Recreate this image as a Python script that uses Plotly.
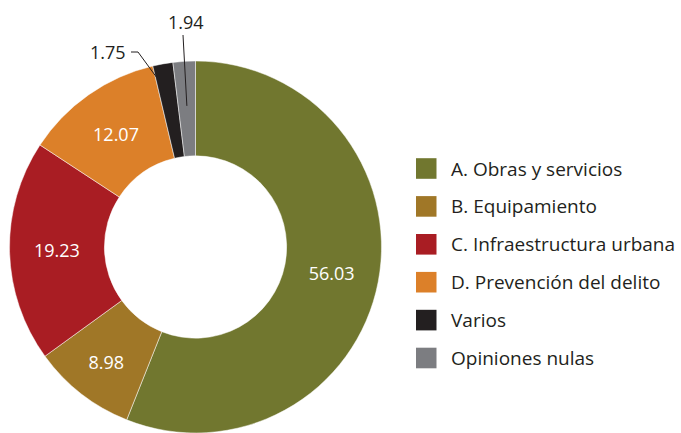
import math
import plotly.graph_objects as go

# Distribution of votes by project category (%)
categories = [
    "A. Obras y servicios",
    "B. Equipamiento",
    "C. Infraestructura urbana",
    "D. Prevención del delito",
    "Varios",
    "Opiniones nulas",
]
values = [56.03, 8.98, 19.23, 12.07, 1.75, 1.94]
colors = ["#71772f", "#a07727", "#a91d23", "#dc8029", "#231f20", "#7c7d81"]
outside = [False, False, False, False, True, True]

W, H = 681, 433
FONT = "Open Sans"
DARK = "#231f20"

# donut geometry in pixels
cx, cy, R = 195.5, 247.0, 186.0
hole = 0.49


def px(x):
    return x / W


def py(y):
    return 1 - y / H


inside_text = ["" if o else f"{v:.2f}" for v, o in zip(values, outside)]

fig = go.Figure(
    go.Pie(
        labels=categories,
        values=values,
        text=inside_text,
        textinfo="text",
        textposition="inside",
        insidetextorientation="horizontal",
        insidetextfont=dict(family=FONT, size=18, color="white"),
        marker=dict(colors=colors, line=dict(color="white", width=0.5)),
        hole=hole,
        sort=False,
        direction="clockwise",
        rotation=0,
        showlegend=False,
        hoverinfo="label+value",
        domain=dict(x=[px(cx - R), px(cx + R)], y=[py(cy + R), py(cy - R)]),
    )
)

# angular position (degrees, clockwise from 12 o'clock) of each slice middle
total = sum(values)
mids = []
acc = 0.0
for v in values:
    mids.append((acc + v / 2) / total * 360.0)
    acc += v


def polar_pt(angle_deg, frac):
    a = math.radians(angle_deg)
    r = frac * R
    return cx + r * math.sin(a), cy - r * math.cos(a)


shapes = []
annotations = []

# callout for "Varios": label to the left with a kinked leader line
ex, ey = polar_pt(mids[4] - 1.5, 0.89)
shapes.append(dict(
    type="path", xref="paper", yref="paper",
    path=f"M {px(131)} {py(52)} L {px(138)} {py(52)} L {px(ex)} {py(ey)}",
    line=dict(color=DARK, width=1),
))
annotations.append(dict(
    x=px(128), y=py(52), xref="paper", yref="paper",
    text=f"{values[4]:.2f}", showarrow=False,
    xanchor="right", yanchor="middle",
    font=dict(family=FONT, size=18, color=DARK),
))

# callout for "Opiniones nulas": label above with a straight leader line
ex, ey = polar_pt(mids[5], 0.76)
shapes.append(dict(
    type="line", xref="paper", yref="paper",
    x0=px(183), y0=py(35), x1=px(ex), y1=py(ey),
    line=dict(color=DARK, width=1),
))
annotations.append(dict(
    x=px(186), y=py(22), xref="paper", yref="paper",
    text=f"{values[5]:.2f}", showarrow=False,
    xanchor="center", yanchor="middle",
    font=dict(family=FONT, size=18, color=DARK),
))

# legend: colour squares with category names
ly0, ldy = 168.5, 37.9
for i, (name, col) in enumerate(zip(categories, colors)):
    yc = ly0 + i * ldy
    shapes.append(dict(
        type="rect", xref="paper", yref="paper",
        x0=px(416), x1=px(436.5), y0=py(yc + 10.3), y1=py(yc - 10.3),
        fillcolor=col, line=dict(width=0),
    ))
    annotations.append(dict(
        x=px(449), y=py(yc), xref="paper", yref="paper",
        text=name, showarrow=False,
        xanchor="left", yanchor="middle",
        font=dict(family=FONT, size=19, color=DARK),
    ))

fig.update_layout(
    width=W,
    height=H,
    margin=dict(l=0, r=0, t=0, b=0),
    paper_bgcolor="white",
    plot_bgcolor="white",
    shapes=shapes,
    annotations=annotations,
)

fig.write_html("out.html")
